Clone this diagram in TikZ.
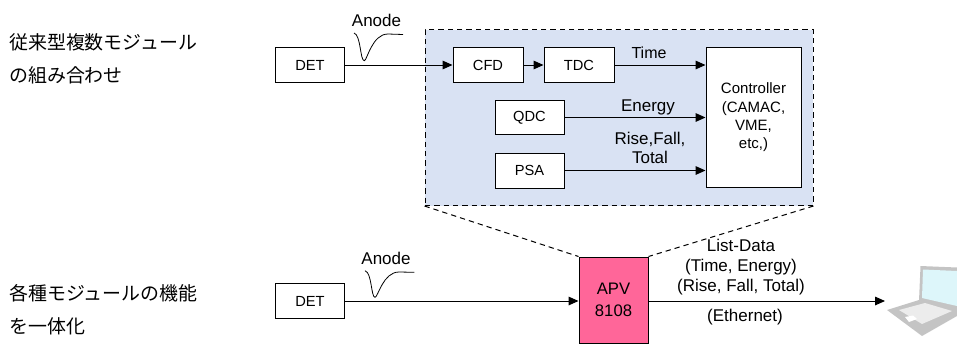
\documentclass[tikz,border=0pt]{standalone}
\usepackage{fontspec}
\setmainfont{Liberation Sans}
\newfontfamily\cjkfont{Noto Sans CJK JP}
\usetikzlibrary{arrows.meta}
\definecolor{panelblue}{HTML}{D9E2F3}
\definecolor{apvpink}{HTML}{FF6699}
\definecolor{lapgray}{HTML}{C4C4C4}
\definecolor{lapkeys}{HTML}{ECECEC}
\definecolor{lapscreen}{HTML}{DDF6FA}
\tikzset{
  blockbox/.style={draw=black,line width=0.75pt,fill=white,inner sep=0pt,align=center,font=\fontsize{11}{13}\selectfont},
  flow/.style={draw=black,line width=0.75pt,-{Triangle[length=7.5pt,width=6.5pt]}},
  plainlabel/.style={inner sep=0pt,align=center,font=\fontsize{12.75}{15}\selectfont},
  jplabel/.style={inner sep=0pt,align=left,anchor=west,font=\cjkfont\fontsize{14.2}{24.7}\selectfont},
  pulse/.style={draw=black,line width=0.6pt},
  dashline/.style={draw=black,line width=0.75pt,dash pattern=on 4pt off 3pt}
}
\begin{document}
\begin{tikzpicture}[x=0.75pt,y=-0.75pt]
\useasboundingbox (0,0) rectangle (957,343);
% panel
\node[draw=black,line width=0.75pt,dash pattern=on 4pt off 3pt,fill=panelblue,minimum width=388*0.75pt,minimum height=176*0.75pt,inner sep=0pt] (panel) at (619,117.5) {};
% blocks
\node[blockbox,minimum width=69*0.75pt,minimum height=35.5*0.75pt] (det1) at (310,65) {DET};
\node[blockbox,minimum width=70*0.75pt,minimum height=35.5*0.75pt] (cfd) at (488,65) {CFD};
\node[blockbox,minimum width=70*0.75pt,minimum height=35.5*0.75pt] (tdc) at (579,65) {TDC};
\node[blockbox,minimum width=69*0.75pt,minimum height=34.5*0.75pt] (qdc) at (529.5,117.5) {QDC};
\node[blockbox,minimum width=69*0.75pt,minimum height=35*0.75pt] (psa) at (529.5,170.5) {PSA};
\node[blockbox,minimum width=95*0.75pt,minimum height=140.5*0.75pt,font=\fontsize{11.25}{13.7}\selectfont] (ctrl) at (753.5,117.5) {Controller\\(CAMAC,\\VME,\\etc,)};
\node[blockbox,fill=apvpink,minimum width=69*0.75pt,minimum height=86*0.75pt,font=\fontsize{12.5}{16.5}\selectfont] (apv) at (613.5,300) {APV\\8108};
\node[blockbox,minimum width=69.5*0.75pt,minimum height=34.5*0.75pt] (det2) at (310,301) {DET};
% laptop
\coordinate (lapend) at (885,301);
\fill[lapgray] (920.5,266) -- (957,267.5) -- (957,310) -- (919,301) -- cycle;
\fill[lapscreen] (923,269.5) -- (957,271) -- (957,306) -- (922,298) -- cycle;
\fill[lapgray] (887,310) -- (919,300) -- (957,309) -- (957,316) -- (922,336) -- cycle;
\fill[lapkeys] (899,310) -- (925,303) -- (952,311) -- (922,324) -- cycle;
\fill[white] (905,317) -- (913,315.5) -- (917,319) -- (909,322) -- cycle;
% connectors
\draw[flow] (det1.east) -- (cfd.west);
\draw[flow] (cfd.east) -- (tdc.west);
\draw[flow] (tdc.east) -- (tdc.east -| ctrl.west);
\draw[flow] (qdc.east) -- (qdc.east -| ctrl.west);
\draw[flow] (psa.east) -- (psa.east -| ctrl.west);
\draw[flow] (det2.east) -- (det2.east -| apv.west);
\draw[flow] (apv.east |- lapend) -- (lapend);
\draw[dashline] (panel.south west) -- (apv.north west);
\draw[dashline] (panel.south east) -- (apv.north east);
% pulses
\draw[pulse] (354,33) .. controls (361,35) and (360,60.7) .. (364.3,60.7) .. controls (367,60.7) and (372,34) .. (388,34) -- (403,34.5);
\draw[pulse] (365,270.7) .. controls (372,272.7) and (371,297.3) .. (375,297.3) .. controls (378,297.3) and (383,272) .. (399,272) -- (414.3,272.3);
% labels
\node[plainlabel] (anode1) at (376.5,20.5) {Anode};
\node[plainlabel] (anode2) at (386,258) {Anode};
\node[plainlabel,font=\fontsize{12}{15}\selectfont] (time) at (649,53) {Time};
\node[plainlabel] (energy) at (648,107) {Energy};
\node[plainlabel,font=\fontsize{12.75}{14.2}\selectfont] (rise) at (650,147.5) {Rise,Fall,\\Total};
\node[plainlabel,font=\fontsize{12.75}{15}\selectfont] (list) at (741,267) {List-Data\\(Time, Energy)\\(Rise, Fall, Total)};
\node[plainlabel] (eth) at (745,317) {(Ethernet)};
\node[jplabel] (jp1) at (9,58.5) {従来型複数モジュール\\の組み合わせ};
\node[jplabel] (jp2) at (9,310) {各種モジュールの機能\\を一体化};
\end{tikzpicture}
\end{document}
